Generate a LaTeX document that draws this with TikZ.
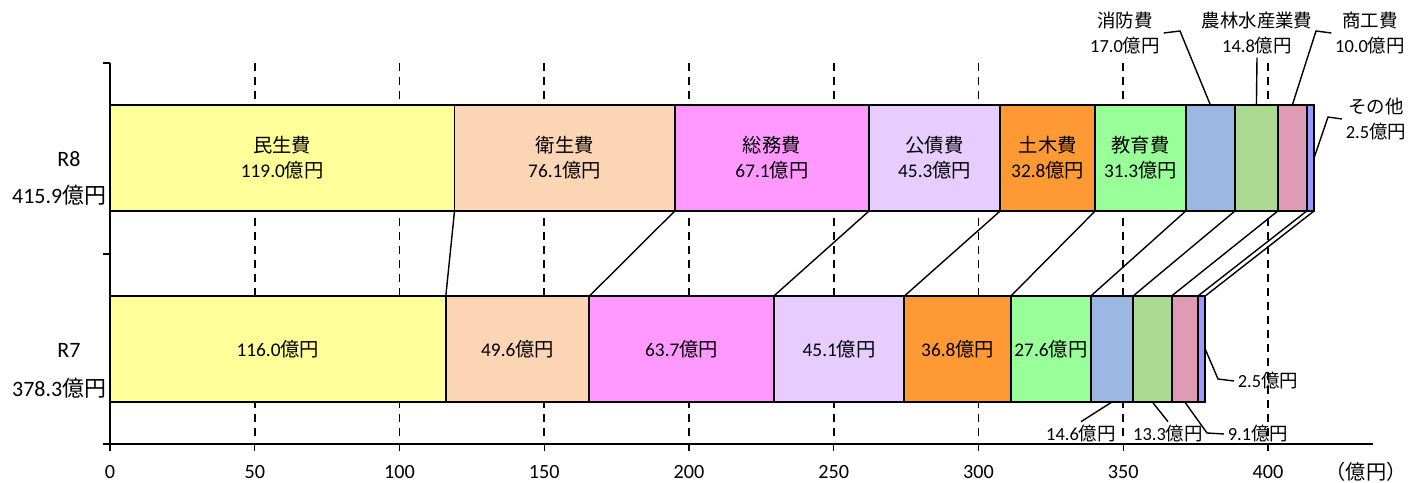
\documentclass[tikz,border=0pt]{standalone}
\usepackage{fontspec}
\setmainfont{Carlito}
\newfontfamily\jpfont{Noto Sans CJK JP}
\newcommand{\jp}[1]{{\jpfont #1}}
\newcommand{\oku}{\jp{億円}}

\definecolor{cMinsei}{HTML}{FFFF99}
\definecolor{cEisei}{HTML}{FCD5B5}
\definecolor{cSomu}{HTML}{FF99FF}
\definecolor{cKosai}{HTML}{E6CCFF}
\definecolor{cDoboku}{HTML}{FF9933}
\definecolor{cKyoiku}{HTML}{99FF99}
\definecolor{cShobo}{HTML}{9BB7E2}
\definecolor{cNorin}{HTML}{ADDA92}
\definecolor{cShoko}{HTML}{DF9BB4}
\definecolor{cSonota}{HTML}{9999FF}

\begin{document}
\begin{tikzpicture}[x=0.02cm, y=-0.02cm,
    txt/.style={font=\fontsize{10.5}{14}\selectfont, inner sep=2pt},
    axtxt/.style={font=\fontsize{11.5}{14}\selectfont, inner sep=2pt},
    yeartxt/.style={font=\fontsize{12.5}{15}\selectfont, inner sep=2pt},
    seg/.style={draw, line width=1.1pt, inner sep=0pt, outer sep=0pt,
      minimum height=2.12cm, align=center, font=\fontsize{11}{14.2}\selectfont},
    gridline/.style={line width=0.9pt, dash pattern=on 4.5pt off 3.5pt},
    axisline/.style={line width=0.8pt},
    serline/.style={line width=0.8pt},
    leader/.style={line width=0.8pt}]
  \useasboundingbox (0,0) rectangle (1421,483);

  % Grid
  \foreach \v in {50,100,...,400}
    \draw[gridline] ({110+2.895*\v},63) -- ({110+2.895*\v},444);

  % Axes
  \draw[axisline] (103,444) -- (1373,444);
  \draw[axisline] (110,63) -- (110,451);
  \foreach \y in {63,254}
    \draw[axisline] (103,\y) -- (110,\y);
  \foreach \v in {50,100,...,400}
    \draw[axisline] ({110+2.895*\v},444) -- ({110+2.895*\v},451);
  \foreach \v in {0,50,...,400}
    \node[axtxt] (ax\v) at ({110+2.895*\v},472) {\v};
  \node[axtxt] (unit) at (1366,472) {\jp{（億円）}};

  % R8
  \foreach \n/\a/\b/\c/\t in {
      1/0/119.0/cMinsei/{\jp{民生費}\\119.0\oku},
      2/119.0/195.1/cEisei/{\jp{衛生費}\\76.1\oku},
      3/195.1/262.2/cSomu/{\jp{総務費}\\67.1\oku},
      4/262.2/307.5/cKosai/{\jp{公債費}\\45.3\oku},
      5/307.5/340.3/cDoboku/{\jp{土木費}\\32.8\oku},
      6/340.3/371.6/cKyoiku/{\jp{教育費}\\31.3\oku},
      7/371.6/388.6/cShobo/{},
      8/388.6/403.4/cNorin/{},
      9/403.4/413.4/cShoko/{},
      10/413.4/415.9/cSonota/{}}
    \node[seg, fill=\c, minimum width={2.895*(\b-\a)*0.02cm}, anchor=west]
      (h\n) at ({110+2.895*\a},158) {\t};

  % R7
  \foreach \n/\a/\b/\c/\t in {
      1/0/116.0/cMinsei/{116.0\oku},
      2/116.0/165.6/cEisei/{49.6\oku},
      3/165.6/229.3/cSomu/{63.7\oku},
      4/229.3/274.4/cKosai/{45.1\oku},
      5/274.4/311.2/cDoboku/{36.8\oku},
      6/311.2/338.8/cKyoiku/{27.6\oku},
      7/338.8/353.4/cShobo/{},
      8/353.4/366.7/cNorin/{},
      9/366.7/375.8/cShoko/{},
      10/375.8/378.3/cSonota/{}}
    \node[seg, fill=\c, minimum width={2.895*(\b-\a)*0.02cm}, anchor=west]
      (l\n) at ({110+2.895*\a},349) {\t};

  % Series lines
  \foreach \n in {1,...,10}
    \draw[serline] (h\n.south east) -- (l\n.north east);

  % Year labels
  \node[yeartxt] (r8) at (69,159) {R8};
  \node[yeartxt, anchor=east] (r8sum) at (110,195) {415.9\oku};
  \node[yeartxt] (r7) at (69,350) {R7};
  \node[yeartxt, anchor=east] (r7sum) at (110,388) {378.3\oku};

  % Callouts R8
  \node[txt, align=center] (shobo) at (1125,33) {\jp{消防費}\\17.0\oku};
  \node[txt, align=center] (norin) at (1257,33) {\jp{農林水産業費}\\14.8\oku};
  \node[txt, align=center] (shoko) at (1370,33) {\jp{商工費}\\10.0\oku};
  \node[txt, align=center] (sonota) at (1376,119) {\jp{その他}\\2.5\oku};
  \coordinate (k7) at (1180,31);
  \coordinate (k9) at (1316,31);
  \coordinate (k10) at (1328,117);
  \draw[leader] (shobo.east) -- (k7) -- (h7.north);
  \draw[leader] (norin.south) -- (h8.north);
  \draw[leader] (shoko.west) -- (k9) -- (h9.north);
  \draw[leader] (sonota.west) -- (k10) -- (h10.east);

  % Callouts R7
  \node[txt, anchor=west] (v10) at (1234,381) {2.5\oku};
  \node[txt, anchor=west] (v9) at (1224,434) {9.1\oku};
  \node[txt] (v8) at (1168,434) {13.3\oku};
  \node[txt] (v7) at (1081,434) {14.6\oku};
  \coordinate (m10) at (1218,379);
  \coordinate (m9) at (1207,433);
  \draw[leader] (l10.east) -- (m10) -- (v10.west);
  \draw[leader] (l9.south) -- (m9) -- (v9.west);
  \draw[leader] (l8.south) -- (v8.north);
  \draw[leader] (l7.south) -- (v7.north);
\end{tikzpicture}
\end{document}
